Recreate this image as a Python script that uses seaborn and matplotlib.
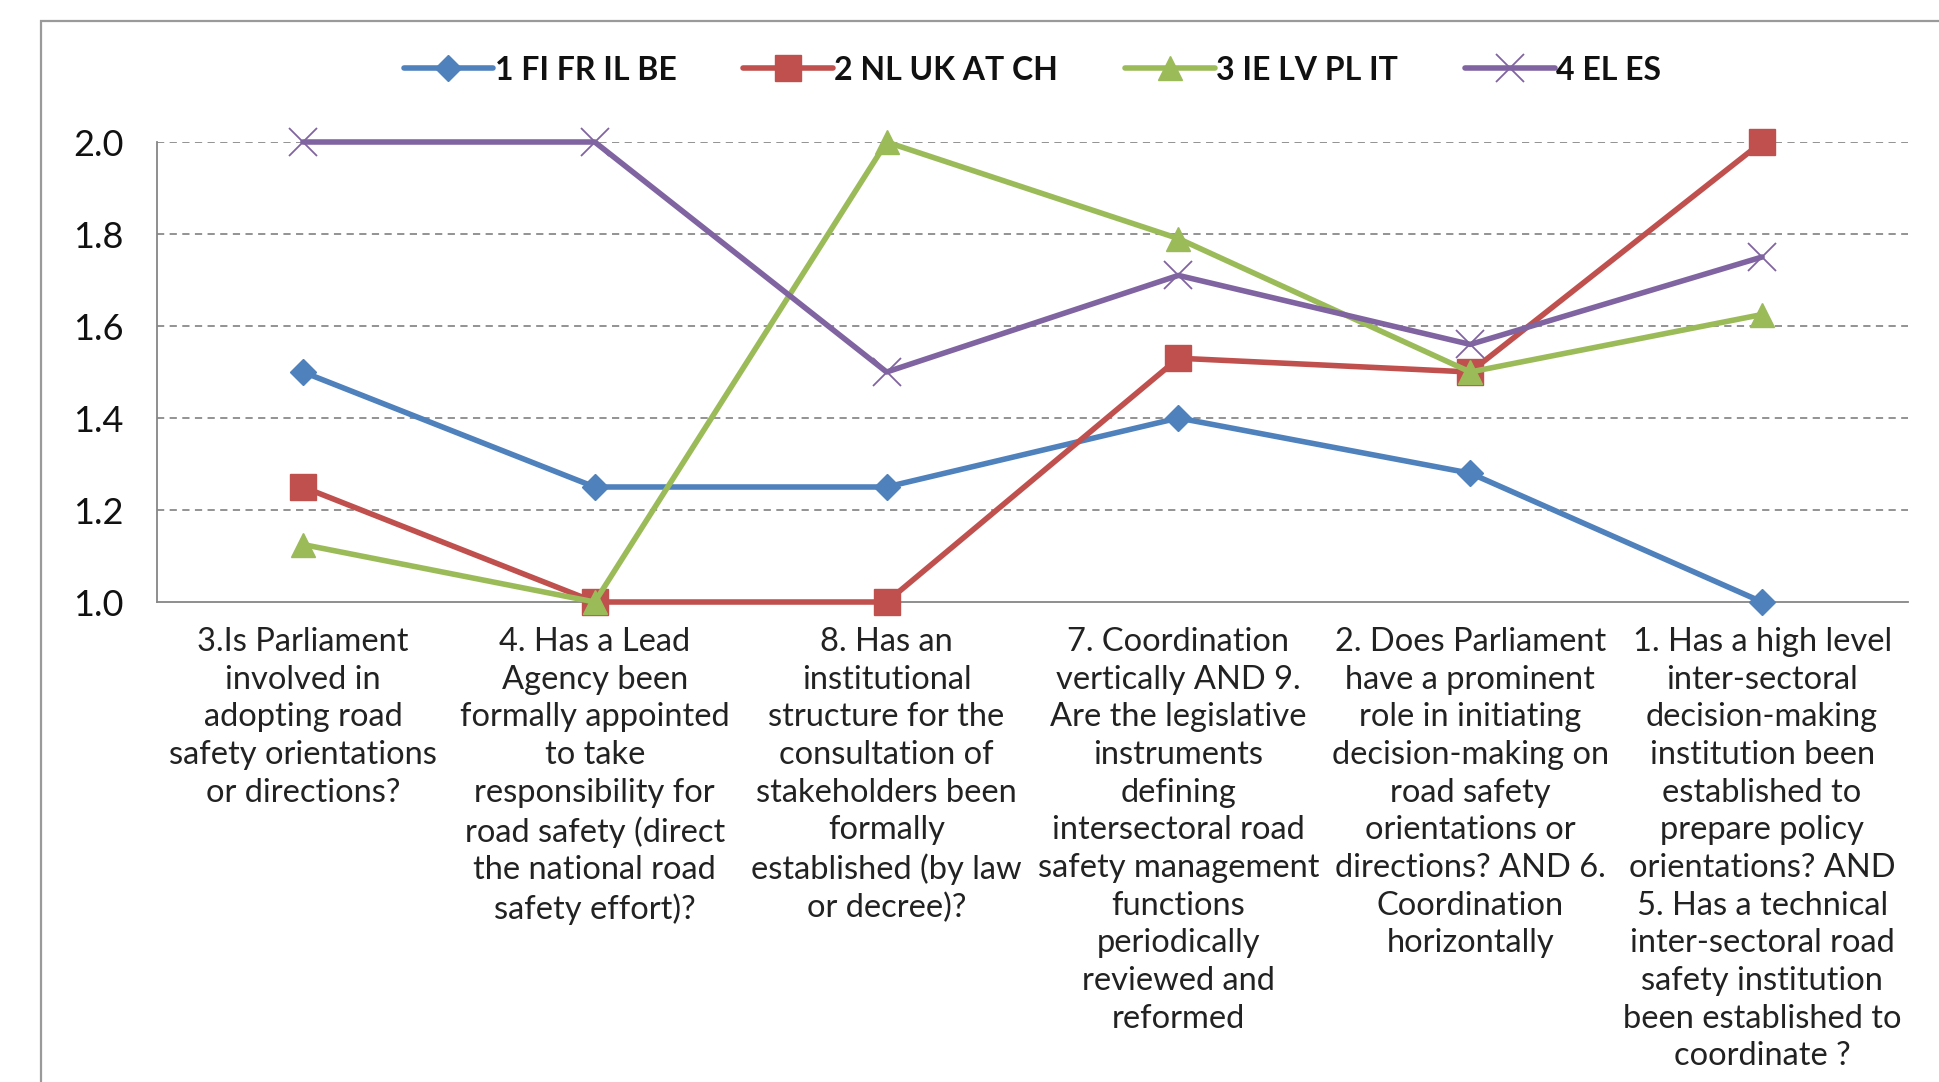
import matplotlib
matplotlib.use("Agg")
import matplotlib.pyplot as plt
import seaborn as sns
import pandas as pd
from matplotlib.patches import Rectangle
from matplotlib.ticker import FixedLocator, FormatStrFormatter

categories = [
    "3.Is Parliament\ninvolved in\nadopting road\nsafety orientations\nor directions?",
    "4. Has a Lead\nAgency been\nformally appointed\nto take\nresponsibility for\nroad safety (direct\nthe national road\nsafety effort)?",
    "8. Has an\ninstitutional\nstructure for the\nconsultation of\nstakeholders been\nformally\nestablished (by law\nor decree)?",
    "7. Coordination\nvertically AND 9.\nAre the legislative\ninstruments\ndefining\nintersectoral road\nsafety management\nfunctions\nperiodically\nreviewed and\nreformed",
    "2. Does Parliament\nhave a prominent\nrole in initiating\ndecision-making on\nroad safety\norientations or\ndirections? AND 6.\nCoordination\nhorizontally",
    "1. Has a high level\ninter-sectoral\ndecision-making\ninstitution been\nestablished to\nprepare policy\norientations? AND\n5. Has a technical\ninter-sectoral road\nsafety institution\nbeen established to\ncoordinate ?",
]
series_names = ["1 FI FR IL BE", "2 NL UK AT CH", "3 IE LV PL IT", "4 EL ES"]
s1 = [1.5, 1.25, 1.25, 1.4, 1.28, 1.0]
s2 = [1.25, 1.0, 1.0, 1.53, 1.5, 2.0]
s3 = [1.125, 1.0, 2.0, 1.79, 1.5, 1.625]
s4 = [2.0, 2.0, 1.5, 1.71, 1.56, 1.75]
y_ticks = [1.0, 1.2, 1.4, 1.6, 1.8, 2.0]

colors = ["#4F81BD", "#C0504D", "#9BBB59", "#8064A2"]
markers = ["D", "s", "^", "x"]
msizes = [13, 19, 17, 20]

sns.set_theme(style="white")
plt.rcParams["font.family"] = ["Lato", "DejaVu Sans"]

rows = []
for name, vals in zip(series_names, [s1, s2, s3, s4]):
    for i, v in enumerate(vals):
        rows.append({"pos": i, "value": v, "series": name})
df = pd.DataFrame(rows)

fig = plt.figure(figsize=(19.39, 10.82), dpi=100)
ax = fig.add_axes([157/1939, 1 - 602/1082, (1908-157)/1939, (602-142)/1082])

for name, col, mk, ms in zip(series_names, colors, markers, msizes):
    sub = df[df["series"] == name]
    sns.lineplot(data=sub, x="pos", y="value", ax=ax, color=col, lw=4,
                 marker=mk, markersize=ms, markeredgecolor=col,
                 markeredgewidth=(1.3 if mk == "x" else 1), label=name,
                 clip_on=False, zorder=3)

ax.set_xlim(-0.5, 5.5)
ax.set_ylim(1.0, 2.0)
ax.yaxis.set_major_locator(FixedLocator(y_ticks))
ax.yaxis.set_major_formatter(FormatStrFormatter("%.1f"))
ax.set_xticks(range(len(categories)))
ax.set_xticklabels(categories, fontsize=23.5, linespacing=1.32, color="#222222")
ax.xaxis.set_minor_locator(FixedLocator([i - 0.5 for i in range(len(categories) + 1)]))
ax.tick_params(axis="x", which="major", length=0, pad=18)
ax.tick_params(axis="x", which="minor", length=9, width=1.2, color="#868686", direction="out")
ax.tick_params(axis="y", which="major", length=8, width=1.2, color="#868686",
               direction="out", labelsize=26, pad=16, labelcolor="#111111")
ax.set_xlabel("")
ax.set_ylabel("")

for y in y_ticks[1:]:
    ax.axhline(y, color="#8a8a8a", lw=1.3, ls=(0, (4, 3)), zorder=1)

for side in ["top", "right"]:
    ax.spines[side].set_visible(False)
for side in ["left", "bottom"]:
    ax.spines[side].set_color("#868686")
    ax.spines[side].set_linewidth(1.3)

leg = ax.legend(loc="center", bbox_to_anchor=(0.5, 1 + (142 - 70) / 460), ncol=4,
                frameon=False, fontsize=23, handlelength=2.8, handletextpad=0.05,
                columnspacing=2.1)
for t in leg.get_texts():
    t.set_color("#111111")
    t.set_fontweight("bold")

fig.patches.append(Rectangle((41/1939, -0.1), 1.2, 1.1 - 21/1082,
                             transform=fig.transFigure, fill=False,
                             edgecolor="#9a9a9a", lw=1.6))

fig.savefig("out.png", dpi=100, facecolor="white")
